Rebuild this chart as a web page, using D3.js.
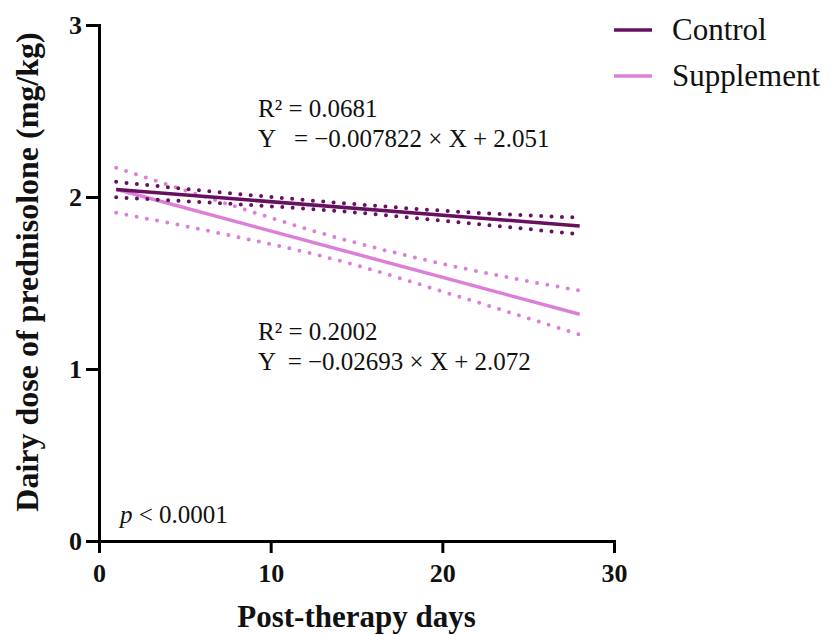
<!DOCTYPE html>
<html>
<head>
<meta charset="utf-8">
<script src="https://cdn.jsdelivr.net/npm/d3@7"></script>
<style>
  body { margin: 0; background: #fff; }
  text { font-family: "Liberation Serif", "DejaVu Serif", serif; fill: #111; white-space: pre; }
</style>
</head>
<body>
<div id="chart"></div>
<script>
// regression fits
const groups = ["Control", "Supplement"];
const colors = ["#66105f", "#dc7fd9"];
const slopes = [-0.007822, -0.02693];
const intercepts = [2.051, 2.072];
const r2Labels = ["R\u00b2 = 0.0681", "R\u00b2 = 0.2002"];
const eqLabels = ["Y   = \u22120.007822 \u00d7 X + 2.051", "Y  = \u22120.02693 \u00d7 X + 2.072"];
const xRange = [1, 28];

// 95% confidence bands
const bandX = [1, 7, 14, 21, 28];
const controlUpper = [2.088, 2.028, 1.966, 1.914, 1.880];
const controlLower = [1.998, 1.964, 1.918, 1.852, 1.784];
const suppUpper = [2.170, 1.975, 1.760, 1.590, 1.456];
const suppLower = [1.908, 1.790, 1.630, 1.420, 1.200];

const xTicks = [0, 10, 20, 30];
const yTicks = [0, 1, 2, 3];

const W = 831, H = 635;
const M = { LEFT: 99, TOP: 25, RIGHT: 217, BOTTOM: 94 };
const WIDTH = W - M.LEFT - M.RIGHT;
const HEIGHT = H - M.TOP - M.BOTTOM;

const svg = d3.select("#chart").append("svg")
  .attr("width", W).attr("height", H);

const g = svg.append("g").attr("transform", `translate(${M.LEFT}, ${M.TOP})`);

const x = d3.scaleLinear().domain([0, 30]).range([0, WIDTH]);
const y = d3.scaleLinear().domain([0, 3]).range([HEIGHT, 0]);

// axes
const xAxis = g.append("g").attr("transform", `translate(0, ${HEIGHT})`)
  .call(d3.axisBottom(x).tickValues(xTicks).tickFormat(d3.format("d")).tickSize(12).tickPadding(6));
const yAxis = g.append("g")
  .call(d3.axisLeft(y).tickValues(yTicks).tickFormat(d3.format("d")).tickSize(13).tickPadding(4));

[xAxis, yAxis].forEach(a => {
  a.select(".domain").attr("stroke", "#000").attr("stroke-width", 3);
  a.selectAll(".tick line").attr("stroke", "#000").attr("stroke-width", 3);
  a.selectAll(".tick text")
    .attr("font-family", "Liberation Serif")
    .attr("font-size", 26).attr("font-weight", "bold").attr("fill", "#111");
});
xAxis.selectAll(".tick text").attr("dy", "0.9em");

// bands
const line = d3.line().x(d => x(d[0])).y(d => y(d[1]));
const bands = [[controlUpper, controlLower], [suppUpper, suppLower]];

// draw supplement first, control on top
[1, 0].forEach(i => {
  bands[i].forEach(b => {
    g.append("path")
      .datum(bandX.map((v, j) => [v, b[j]]))
      .attr("d", line.curve(d3.curveMonotoneX))
      .attr("fill", "none")
      .attr("stroke", colors[i])
      .attr("stroke-width", 4)
      .attr("stroke-linecap", "round")
      .attr("stroke-dasharray", "0 10.4");
  });
  g.append("path")
    .datum(xRange.map(v => [v, slopes[i] * v + intercepts[i]]))
    .attr("d", line.curve(d3.curveLinear))
    .attr("fill", "none")
    .attr("stroke", colors[i])
    .attr("stroke-width", 3.5);
});

// annotations
const ann = [[258, 117], [258, 340]];
ann.forEach((p, i) => {
  svg.append("text").attr("x", p[0]).attr("y", p[1])
    .attr("font-size", 25).text(r2Labels[i]);
  svg.append("text").attr("x", p[0]).attr("y", p[1] + 30)
    .attr("font-size", 25).text(eqLabels[i]);
});

const pt = svg.append("text").attr("x", 120).attr("y", 523).attr("font-size", 25);
pt.append("tspan").attr("font-style", "italic").text("p");
pt.append("tspan").text(" < 0.0001");

// axis titles
svg.append("text")
  .attr("x", M.LEFT + x(15) + 0).attr("y", 627)
  .attr("text-anchor", "middle")
  .attr("font-size", 31).attr("font-weight", "bold")
  .text("Post-therapy days");

svg.append("text")
  .attr("transform", `translate(38, 272) rotate(-90)`)
  .attr("text-anchor", "middle")
  .attr("font-size", 32).attr("font-weight", "bold")
  .text("Dairy dose of prednisolone (mg/kg)");

// legend
const legend = svg.append("g").attr("transform", "translate(614, 30)");
groups.forEach((name, i) => {
  const row = legend.append("g").attr("transform", `translate(0, ${i * 46})`);
  row.append("line").attr("x1", 0).attr("x2", 38).attr("y1", 0).attr("y2", 0)
    .attr("stroke", colors[i]).attr("stroke-width", 3.5);
  row.append("text").attr("x", 58).attr("y", 10)
    .attr("font-size", 31).text(name);
});
</script>
</body>
</html>
